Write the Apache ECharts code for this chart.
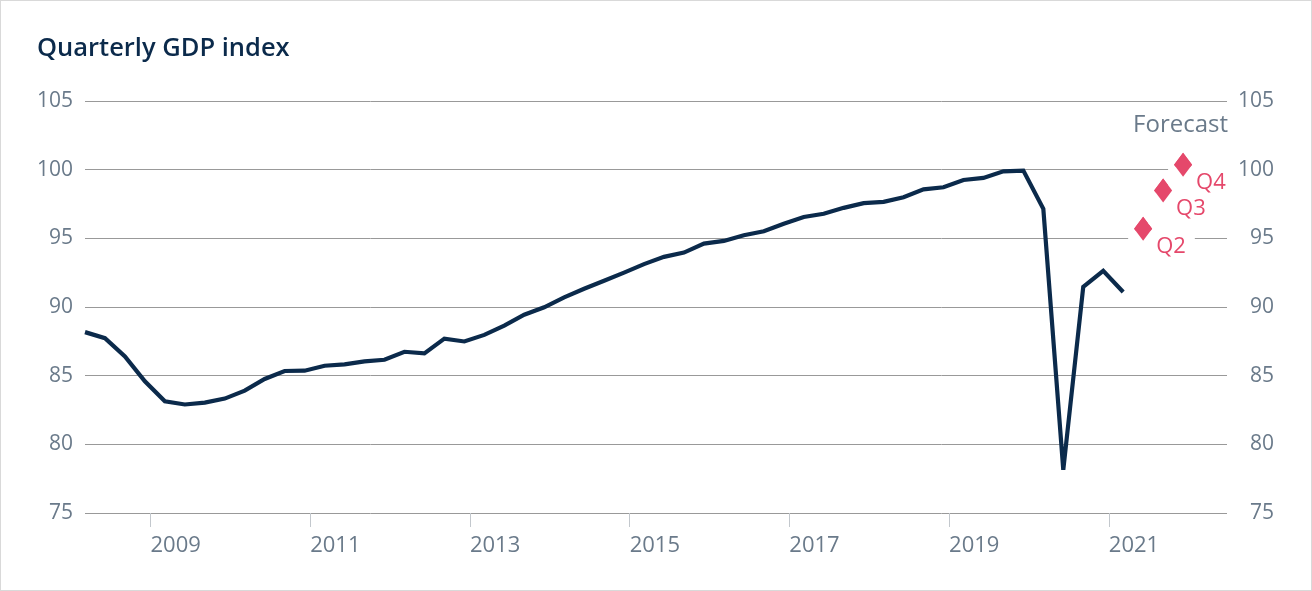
<!DOCTYPE html>
<html>
<head>
<meta charset="utf-8">
<script src="https://cdn.jsdelivr.net/npm/echarts@6/dist/echarts.min.js"></script>
<style>
  html, body { margin: 0; padding: 0; background: #fff; }
  #chart { width: 1312px; height: 591px; box-sizing: border-box; border: 1px solid #d9d9d9; }
</style>
</head>
<body>
<div id="chart"></div>
<script>
// ---- data ----
const startYear = 2008;
const gdpIndex = [
  88.17, 87.73, 86.40, 84.59, 83.14, 82.90, 83.04, 83.33, 83.91, 84.76,
  85.34, 85.36, 85.72, 85.82, 86.04, 86.16, 86.74, 86.62, 87.70, 87.49,
  87.97, 88.65, 89.44, 89.98, 90.70, 91.33, 91.91, 92.50, 93.12, 93.65,
  93.96, 94.62, 94.81, 95.22, 95.51, 96.06, 96.55, 96.79, 97.22, 97.56,
  97.66, 97.99, 98.57, 98.72, 99.25, 99.40, 99.88, 99.93, 97.15, 78.14,
  91.47, 92.63, 91.09
];
const forecastYear = 2021;
const forecastQuarters = ['Q2', 'Q3', 'Q4'];
const forecastValues = [95.70, 98.48, 100.36];
const yearTicks = [2009, 2011, 2013, 2015, 2017, 2019, 2021];
const yTicks = [75, 80, 85, 90, 95, 100, 105];

// quarter position within the year on the time scale
const QPOS = 0.18;
const quarterX = (year, q) => year + (q - 1) / 4 + QPOS;

const lineData = gdpIndex.map((v, i) => [quarterX(startYear + Math.floor(i / 4), (i % 4) + 1), v]);
const fcData = forecastValues.map((v, i) => ({
  value: [quarterX(forecastYear, parseInt(forecastQuarters[i].slice(1), 10)), v],
  name: forecastQuarters[i]
}));

const navy = '#0b2a4b';
const pink = '#e5486b';
const grey = '#6a7a8a';
const font = '"Open Sans", "Noto Sans", sans-serif';

const chart = echarts.init(document.getElementById('chart'), null, { renderer: 'canvas' });
chart.setOption({
  animation: false,
  backgroundColor: '#fff',
  textStyle: { fontFamily: font },
  title: {
    text: 'Quarterly GDP index',
    left: 31, top: 30,
    textStyle: { fontFamily: font, fontSize: 25.5, fontWeight: 600, color: navy }
  },
  grid: { left: 84, right: 84, top: 100, bottom: 77, containLabel: false, outerBoundsMode: 'none' },
  xAxis: {
    type: 'value',
    min: quarterX(startYear, 1),
    max: quarterX(2022, 2) + 0.05,
    axisLine: { show: false },
    splitLine: { show: false },
    axisTick: { show: true, length: 14, lineStyle: { color: '#c3c8cd', width: 1 }, customValues: yearTicks },
    axisLabel: {
      customValues: yearTicks, align: 'left', margin: 22,
      color: grey, fontSize: 22, fontFamily: font,
      formatter: v => String(Math.round(v))
    }
  },
  yAxis: [
    {
      type: 'value', position: 'left', min: 75, max: 105, interval: 5,
      axisLine: { show: false }, axisTick: { show: false },
      splitLine: { show: true, lineStyle: { color: '#999', width: 1 } },
      axisLabel: { margin: 12, color: grey, fontSize: 21, fontFamily: font }
    },
    {
      type: 'value', position: 'right', min: 75, max: 105, interval: 5,
      axisLine: { show: false }, axisTick: { show: false }, splitLine: { show: false },
      axisLabel: { margin: 47, align: 'right', color: grey, fontSize: 21, fontFamily: font }
    }
  ],
  graphic: [
    {
      type: 'text', right: 83, top: 112, z: 10,
      style: { text: 'Forecast', fill: grey, fontSize: 24, fontFamily: font }
    }
  ],
  series: [
    {
      type: 'line', data: lineData, showSymbol: false, symbol: 'none',
      lineStyle: { color: navy, width: 4.2, join: 'miter' },
      z: 2, silent: true
    },
    {
      type: 'scatter', data: fcData, symbol: 'diamond', symbolSize: [18, 24],
      itemStyle: { color: pink, opacity: 1 }, z: 3, silent: true,
      label: {
        show: true, position: 'inside', align: 'left', verticalAlign: 'middle',
        offset: [-15, 18], formatter: p => p.name,
        color: pink, fontSize: 22, fontFamily: font,
        backgroundColor: '#fff', padding: [5, 9, 5, 28]
      }
    },
    {
      type: 'scatter', data: fcData, symbol: 'diamond', symbolSize: [18, 24],
      itemStyle: { color: pink, opacity: 1 }, z: 5, silent: true, label: { show: false }
    }
  ]
});
</script>
</body>
</html>
